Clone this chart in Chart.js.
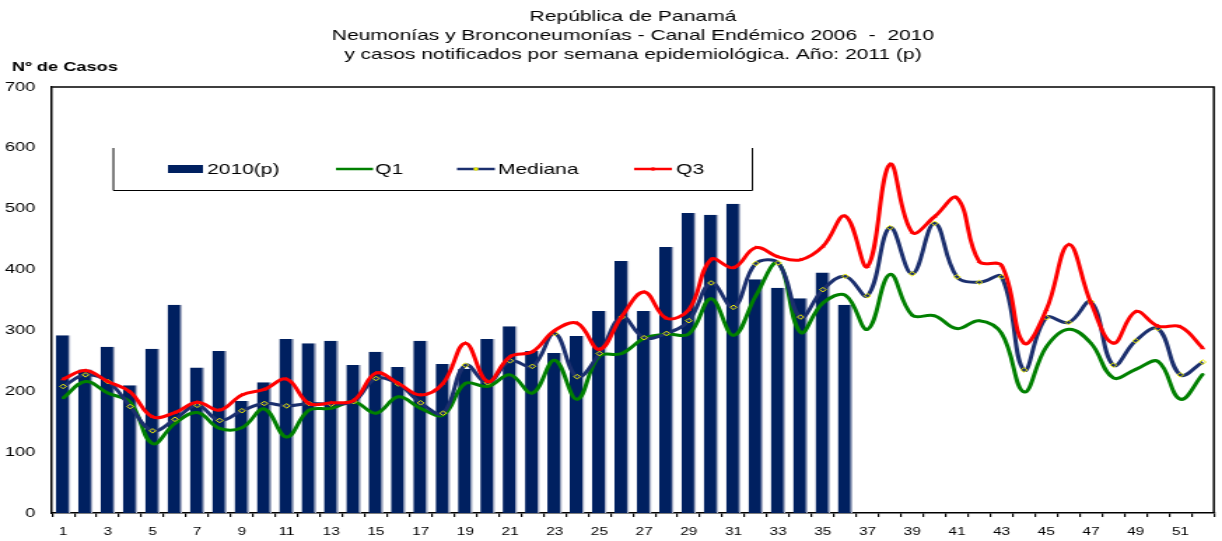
<!DOCTYPE html>
<html><head><meta charset="utf-8">
<script src="https://cdn.jsdelivr.net/npm/chart.js@4/dist/chart.umd.min.js"></script>
<style>
html,body{margin:0;padding:0;background:#fff;overflow:hidden}
#wrap{width:873px;height:541px;transform-origin:0 0;transform:scaleX(1.39977)}
</style>
</head><body><div id="wrap"><canvas id="c" width="873" height="541"></canvas></div>
<script>
const weeks = Array.from({length:52},(_,i)=>String(i+1));
const casos2010 = [292,236,273,210,270,342,239,266,184,215,286,279,283,243,265,240,283,245,237,286,307,266,263,291,332,414,332,437,493,490,508,384,370,353,395,342];
const q1 = [189,216,197,182,114,147,165,139,140,171,125,169,172,183,164,191,172,161,213,208,227,197,251,187,258,262,287,294,294,352,292,357,411,297,345,358,302,392,325,324,303,316,295,199,273,302,279,222,236,249,187,228];
const mediana = [208,227,216,175,135,154,177,152,168,180,176,180,179,183,221,212,181,164,243,214,250,241,295,224,262,322,288,295,316,378,338,410,411,322,367,389,357,469,393,476,388,379,388,235,321,313,347,243,283,303,227,248];
const q3 = [220,234,216,199,158,165,182,169,194,203,220,180,181,185,230,213,194,213,279,216,257,265,300,312,269,323,363,320,334,417,403,436,421,416,438,488,405,573,461,487,518,413,407,279,334,441,345,279,331,307,306,271];
const titleLines = ['República de Panamá','Neumonías y Bronconeumonías - Canal Endémico 2006  -  2010','y casos notificados por semana epidemiológica. Año: 2011 (p)'];
const yTitle = 'Nº de Casos';
const legendItems = [
  {label:'2010(p)', type:'bar', color:'#002060'},
  {label:'Q1', type:'line', color:'#008000'},
  {label:'Mediana', type:'line', color:'#1b2f6e', marker:'#e8e800'},
  {label:'Q3', type:'line', color:'#ff0000', marker:'#ff0000'}
];
const FONT = '"Liberation Sans", Arial, sans-serif';

const decor = {
  id:'decor',
  afterDraw(chart){
    const ctx = chart.ctx, a = chart.chartArea;
    ctx.save();
    ctx.strokeStyle = '#000'; ctx.lineWidth = 1.5;
    ctx.beginPath();
    ctx.moveTo(a.left, a.top); ctx.lineTo(a.right, a.top); ctx.lineTo(a.right, a.bottom);
    ctx.stroke();
    ctx.fillStyle = '#000'; ctx.textAlign = 'center'; ctx.textBaseline = 'middle';
    ctx.font = '15px ' + FONT;
    const cx = (a.left + a.right) / 2;
    titleLines.forEach((t,i)=>ctx.fillText(t, cx, 17 + i*19));
    ctx.textAlign = 'left';
    ctx.font = 'bold 13px ' + FONT;
    ctx.fillText(yTitle, 8.6, 67);
    ctx.lineWidth = 1; ctx.strokeStyle = '#000';
    ctx.beginPath();
    ctx.moveTo(81, 148); ctx.lineTo(81, 190.5); ctx.lineTo(537.5, 190.5); ctx.lineTo(537.5, 148);
    ctx.stroke();
    const pos = [{x:120,w:25,tx:148},{x:240,w:26.5,tx:268},{x:326.5,w:27,tx:355.7},{x:453,w:27,tx:483}];
    ctx.font = '15px ' + FONT;
    legendItems.forEach((it,i)=>{
      const p = pos[i], y = 169;
      if (it.type === 'bar') {
        ctx.fillStyle = it.color; ctx.fillRect(p.x, y-4, p.w, 8);
      } else {
        ctx.strokeStyle = it.color; ctx.lineWidth = 2.5;
        ctx.beginPath(); ctx.moveTo(p.x, y); ctx.lineTo(p.x+p.w, y); ctx.stroke();
        if (it.marker) { ctx.fillStyle = it.marker; ctx.beginPath(); ctx.arc(p.x+p.w/2, y, 1.8, 0, Math.PI*2); ctx.fill(); }
      }
      ctx.fillStyle = '#000'; ctx.textBaseline = 'middle';
      ctx.fillText(it.label, p.tx, y+1);
    });
    ctx.restore();
  }
};

new Chart(document.getElementById('c'), {
  data: {
    labels: weeks,
    datasets: [
      {type:'bar', label:'2010(p)', data:casos2010, backgroundColor:'#002060', borderColor:'#a9b0c6',
       borderWidth:{top:0,left:0,bottom:0,right:1.5}, borderSkipped:false, barPercentage:0.66, categoryPercentage:1, order:5},
      {type:'line', label:'Q1', data:q1, borderColor:'#008000', borderWidth:3, tension:0.4,
       pointRadius:1.2, pointBackgroundColor:'#008000', pointBorderWidth:0, order:3},
      {type:'line', label:'Mediana', data:mediana, borderColor:'#1b2f6e', borderWidth:3, tension:0.4,
       pointStyle:'rectRot', pointRadius:2.3, pointBackgroundColor:'rgba(0,0,0,0)', pointBorderColor:'#e8e800', pointBorderWidth:1, order:2},
      {type:'line', label:'Q3', data:q3, borderColor:'#ff0000', borderWidth:3, tension:0.4,
       pointStyle:'triangle', pointRadius:2.3, pointBackgroundColor:'#ff0000', pointBorderWidth:0, order:1}
    ]
  },
  options: {
    responsive:false, animation:false, devicePixelRatio:1,
    layout:{padding:{left:0, right:5.8, top:87, bottom:0}},
    plugins:{legend:{display:false}, tooltip:{enabled:false}, title:{display:false}},
    scales:{
      x:{
        offset:true,
        grid:{display:true, drawOnChartArea:false, drawTicks:true, tickLength:4, color:'#000', lineWidth:1.2, offset:true},
        border:{display:true, color:'#000', width:1.5},
        ticks:{autoSkip:false, maxRotation:0, padding:8, color:'#000', font:{family:FONT, size:11},
          callback:(v,i)=> (i%2===0 ? weeks[i] : '')},
        afterFit(s){ s.height = 28; }
      },
      y:{
        min:0, max:700,
        grid:{display:false, drawTicks:false},
        border:{display:true, color:'#000', width:1.5},
        ticks:{stepSize:100, padding:12, color:'#000', font:{family:FONT, size:13}},
        afterFit(s){ s.width = 37.14; }
      }
    }
  },
  plugins:[decor]
});
</script></body></html>
